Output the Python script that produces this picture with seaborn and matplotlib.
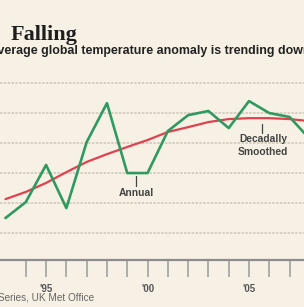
import pandas as pd
import matplotlib
matplotlib.use("Agg")
import matplotlib.pyplot as plt
import seaborn as sns

# -----------------------------------
# DATA
# -----------------------------------

years = [1993, 1994, 1995, 1996, 1997, 1998, 1999, 2000,
         2001, 2002, 2003, 2004, 2005, 2006, 2007, 2008]

annual = [0.150, 0.203, 0.327, 0.183, 0.403, 0.533, 0.300, 0.300,
          0.440, 0.493, 0.507, 0.450, 0.540, 0.500, 0.487, 0.413]

smoothed = [0.213, 0.237, 0.267, 0.303, 0.337, 0.363, 0.387, 0.410,
            0.437, 0.453, 0.470, 0.480, 0.483, 0.483, 0.480, 0.473]

tick_years = list(range(1994, 2008))
tick_labels = ["" if y % 5 else "'" + str(y)[2:] for y in tick_years]
grid_levels = [0.1, 0.2, 0.3, 0.4, 0.5, 0.6]

title = "Falling"
subtitle = "Average global temperature anomaly is trending downwards"
source = "Series, UK Met Office"

# -----------------------------------
# STYLE
# -----------------------------------

bg = "#f7f1e5"
green = "#2f9a5f"
red = "#e0414f"

sns.set_style("white")
plt.rcParams["font.family"] = ["Liberation Sans", "DejaVu Sans"]

df = pd.DataFrame({"year": years, "annual": annual, "smoothed": smoothed})

fig = plt.figure(figsize=(3.04, 3.07), dpi=100, facecolor=bg)
ax = fig.add_axes([0, 47 / 307, 1, 200 / 307])
ax.set_facecolor(bg)

# grid lines
for g in grid_levels:
    ax.axhline(g, color="#d0c9bb", lw=1.2, ls=(0, (1.5, 0.8)), zorder=0)

sns.lineplot(data=df, x="year", y="smoothed", color=red, lw=1.6, ax=ax, zorder=3)
sns.lineplot(data=df, x="year", y="annual", color=green, lw=1.9, ax=ax, zorder=4)

ax.set_xlim(1992.73, 2007.71)
ax.set_ylim(0.01, 0.677)

ax.set_xticks(tick_years)
ax.set_xticklabels(tick_labels, fontsize=7, fontweight="bold", color="#555555")
ax.tick_params(axis="x", bottom=True, length=12, width=1.1, color="#9a9a9a",
               pad=5, direction="out")
ax.set_yticks([])
ax.set_xlabel("")
ax.set_ylabel("")

for side in ["top", "left", "right"]:
    ax.spines[side].set_visible(False)
ax.spines["bottom"].set_color("#8c8c8c")
ax.spines["bottom"].set_linewidth(1.6)

# annotations
ax.plot([1999.45, 1999.45], [0.29, 0.257], color="#444444", lw=0.9)
ax.text(1999.45, 0.235, "Annual", ha="center", va="center",
        fontsize=7.4, fontweight="bold", color="#444444")

ax.plot([2005.65, 2005.65], [0.463, 0.433], color="#444444", lw=0.9)
ax.text(2005.7, 0.392, "Decadally\nSmoothed", ha="center", va="center",
        fontsize=7.4, fontweight="bold", color="#444444", linespacing=1.35)

# titles
fig.text(0.035, 1 - 40 / 307, title, fontsize=16, fontweight="bold",
         family="Liberation Serif", color="#1e1e1e", va="baseline")
fig.text(-0.035, 1 - 54 / 307, subtitle, fontsize=8.9, fontweight="bold",
         color="#222222", va="baseline")
fig.text(-0.005, 1 - 301 / 307, source, fontsize=7.2, color="#666666", va="baseline")

fig.savefig("out.png", dpi=100, facecolor=bg)
